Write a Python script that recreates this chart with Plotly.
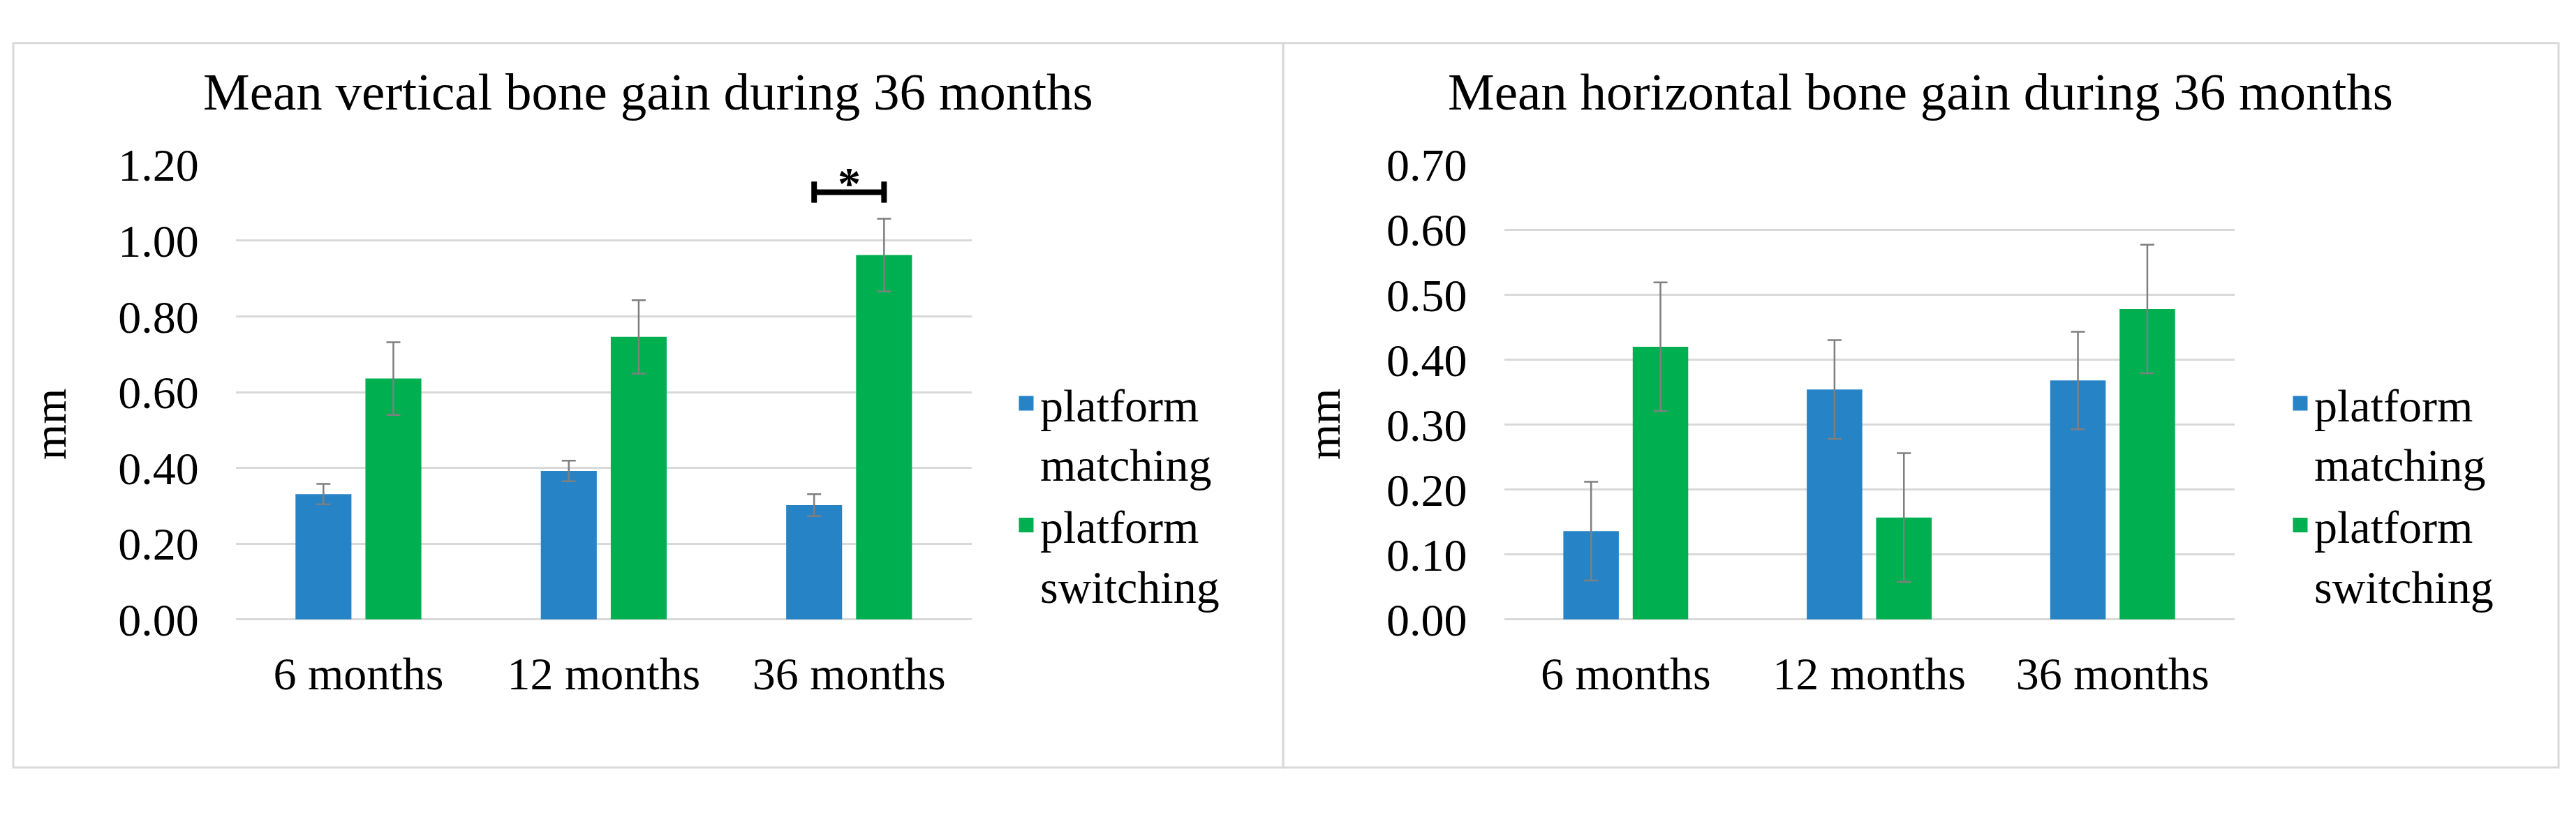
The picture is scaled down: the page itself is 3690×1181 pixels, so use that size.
import plotly.graph_objects as go

# ---------------- data ----------------
categories = ["6 months", "12 months", "36 months"]
series_names = ["platform<br>matching", "platform<br>switching"]
series_colors = ["#2683C6", "#00B050"]

vert_matching = [0.331, 0.392, 0.302]
vert_matching_sd = [0.027, 0.027, 0.029]
vert_switching = [0.636, 0.746, 0.962]
vert_switching_sd = [0.096, 0.097, 0.096]

horiz_matching = [0.136, 0.354, 0.368]
horiz_matching_sd = [0.076, 0.076, 0.075]
horiz_switching = [0.420, 0.157, 0.478]
horiz_switching_sd = [0.099, 0.099, 0.099]

vert_ticks = [0.0, 0.2, 0.4, 0.6, 0.8, 1.0, 1.2]
horiz_ticks = [0.0, 0.1, 0.2, 0.3, 0.4, 0.5, 0.6, 0.7]

titles = ["Mean vertical bone gain during 36 months",
          "Mean horizontal bone gain during 36 months"]
y_title = "mm"

sig_category = 2        # "36 months"
sig_level = 1.128       # bracket height (mm)
sig_tick = 0.028        # half length of bracket end ticks
sig_label = "<b>*</b>"

# ---------------- geometry ----------------
W, H = 3690, 1181
FONT = "Liberation Serif"
GRID = "#d9d9d9"
BARGAP = 0.43
BARGROUPGAP = 0.2


def px_x(p):
    return p / W


def px_y(p):
    return 1 - p / H


x_pos = list(range(len(categories)))

fig = go.Figure()

panels = [
    dict(x="x", y="y", legend="legend",
         data=[(vert_matching, vert_matching_sd), (vert_switching, vert_switching_sd)]),
    dict(x="x2", y="y2", legend="legend2",
         data=[(horiz_matching, horiz_matching_sd), (horiz_switching, horiz_switching_sd)]),
]

for panel in panels:
    for (vals, sd), name, col in zip(panel["data"], series_names, series_colors):
        fig.add_trace(go.Bar(
            x=x_pos, y=vals, name=name, showlegend=False,
            marker=dict(color=col, line=dict(width=0)),
            error_y=dict(type="data", array=sd, visible=True,
                         color="#7f7f7f", thickness=2.5, width=10),
            xaxis=panel["x"], yaxis=panel["y"],
            hoverinfo="skip",
        ))
    # legend entries (square swatches)
    for name, col in zip(series_names, series_colors):
        fig.add_trace(go.Scatter(
            x=[None], y=[None], name=name, mode="markers",
            marker=dict(symbol="square", size=16, color=col,
                        line=dict(color=col, width=5)),
            xaxis=panel["x"], yaxis=panel["y"], legend=panel["legend"],
            showlegend=True, hoverinfo="skip",
        ))

axis_font = dict(family=FONT, size=66, color="#000000")

common_x = dict(range=[-0.5, len(categories) - 0.5], tickmode="array",
                tickvals=x_pos, ticktext=categories, showgrid=False,
                zeroline=False, showline=False, ticks="", tickfont=axis_font,
                ticklabelstandoff=33, fixedrange=True)
common_y = dict(tickformat=".2f", tickmode="array", showgrid=True,
                gridcolor=GRID, gridwidth=3, zeroline=True,
                zerolinecolor=GRID, zerolinewidth=3, showline=False,
                ticks="", tickfont=axis_font, ticklabelstandoff=52,
                fixedrange=True)

plot_top, plot_bottom = 213.5, 908

legend_common = dict(xanchor="left", yanchor="top",
                     font=dict(family=FONT, size=66, color="#000000"),
                     valign="top", bgcolor="rgba(0,0,0,0)", itemwidth=30,
                     tracegroupgap=0)

fig.update_layout(
    width=W, height=H,
    paper_bgcolor="white", plot_bgcolor="white",
    margin=dict(l=0, r=0, t=0, b=0),
    barmode="group", bargap=BARGAP, bargroupgap=BARGROUPGAP,
    font=dict(family=FONT, color="#000000"),
    xaxis=dict(domain=[px_x(337.7), px_x(1392)], anchor="y", **common_x),
    yaxis=dict(domain=[px_y(plot_bottom), px_y(plot_top)], anchor="x",
               range=[0, vert_ticks[-1]], tickvals=vert_ticks, **common_y),
    xaxis2=dict(domain=[px_x(2154.5), px_x(3200.6)], anchor="y2", **common_x),
    yaxis2=dict(domain=[px_y(plot_bottom), px_y(plot_top)], anchor="x2",
                range=[0, horiz_ticks[-1]], tickvals=horiz_ticks, **common_y),
    legend=dict(x=px_x(1450), y=px_y(525), **legend_common),
    legend2=dict(x=px_x(3275), y=px_y(525), **legend_common),
    showlegend=True,
)

# panel frames
shapes = [
    dict(type="rect", xref="paper", yref="paper",
         x0=px_x(19), x1=px_x(1838), y0=px_y(1134), y1=px_y(27.5),
         line=dict(color=GRID, width=3), fillcolor="rgba(0,0,0,0)", layer="below"),
    dict(type="rect", xref="paper", yref="paper",
         x0=px_x(1838), x1=px_x(3665), y0=px_y(1134), y1=px_y(27.5),
         line=dict(color=GRID, width=3), fillcolor="rgba(0,0,0,0)", layer="below"),
]

# significance bracket between the two bars of the chosen category
slot = (1 - BARGAP) / 2
left_c = sig_category - slot / 2
right_c = sig_category + slot / 2
bracket_line = dict(color="#000000", width=8)
shapes += [
    dict(type="line", xref="x", yref="y", x0=left_c, x1=right_c,
         y0=sig_level, y1=sig_level, line=bracket_line),
    dict(type="line", xref="x", yref="y", x0=left_c, x1=left_c,
         y0=sig_level - sig_tick, y1=sig_level + sig_tick, line=bracket_line),
    dict(type="line", xref="x", yref="y", x0=right_c, x1=right_c,
         y0=sig_level - sig_tick, y1=sig_level + sig_tick, line=bracket_line),
]
fig.update_layout(shapes=shapes)

annotations = [
    dict(text=titles[0], x=px_x(928), y=px_y(102), xref="paper", yref="paper",
         showarrow=False, xanchor="center", yanchor="middle",
         font=dict(family=FONT, size=75)),
    dict(text=titles[1], x=px_x(2751), y=px_y(102), xref="paper", yref="paper",
         showarrow=False, xanchor="center", yanchor="middle",
         font=dict(family=FONT, size=75)),
    dict(text=y_title, x=px_x(71), y=px_y(610), xref="paper", yref="paper",
         showarrow=False, textangle=-90, xanchor="center", yanchor="middle",
         font=dict(family=FONT, size=66)),
    dict(text=y_title, x=px_x(1896), y=px_y(610), xref="paper", yref="paper",
         showarrow=False, textangle=-90, xanchor="center", yanchor="middle",
         font=dict(family=FONT, size=66)),
    dict(text=sig_label, x=sig_category, y=sig_level + 0.024, xref="x", yref="y",
         showarrow=False, xanchor="center", yanchor="middle",
         font=dict(family=FONT, size=66)),
]
fig.update_layout(annotations=annotations)

fig.write_html("out.html", config={"displayModeBar": False},
               post_script="document.body.style.margin='0px';")
